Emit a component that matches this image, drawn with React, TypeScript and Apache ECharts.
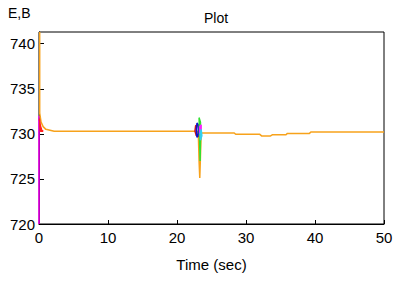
import React, { useEffect, useRef } from "react";
import * as echarts from "echarts";

const xTicks = [0, 10, 20, 30, 40, 50];
const yTicks = [720, 725, 730, 735, 740];

const orangeData: [number, number][] = [
  [0.1, 741.3], [0.1, 732.3], [0.3, 731.3], [0.6, 730.8], [1.0, 730.5], [1.6, 730.4], [2.2, 730.3],
  [23.0, 730.3], [23.1, 729.7], [23.2, 727.0], [23.3, 725.1], [23.4, 727.5], [23.5, 730.1],
  [28.3, 730.1], [28.5, 729.95], [32.0, 729.95], [32.3, 729.75], [33.5, 729.75], [33.8, 729.9],
  [35.8, 729.9], [36.0, 730.05], [39.2, 730.05], [39.4, 730.2], [50, 730.2],
];
const magentaStart: [number, number][] = [[0, 720], [0, 732]];
const redStart: [number, number][] = [[0.05, 731.7], [0.2, 730.9], [0.4, 730.4], [0.6, 730.3], [0.2, 730.3], [0.1, 731.2]];
const redLoop: [number, number][] = [[22.8, 729.8], [22.6, 730.3], [22.7, 730.9], [23.0, 731.0], [23.2, 730.5], [23.1, 729.7], [22.8, 729.8]];
const blueLoop: [number, number][] = [[22.9, 729.6], [22.8, 730.4], [22.9, 731.2], [23.1, 731.0], [23.1, 730.0], [22.9, 729.6]];
const greenSpike: [number, number][] = [[23.2, 731.8], [23.4, 731.3], [23.4, 729.5], [23.35, 727.0], [23.3, 728.5], [23.25, 730.5], [23.2, 731.8]];
const magentaLoop: [number, number][] = [[23.3, 730.0], [23.5, 730.4], [23.5, 731.0], [23.3, 730.8], [23.3, 730.0]];
const cyanLoop: [number, number][] = [[23.4, 729.3], [23.6, 729.8], [23.5, 730.5], [23.35, 730.0], [23.4, 729.3]];

const series = [
  { color: "#ff00ff", data: magentaStart },
  { color: "#f7a21b", data: orangeData },
  { color: "#ff2020", data: redStart },
  { color: "#d01818", data: redLoop },
  { color: "#1010d0", data: blueLoop },
  { color: "#30e030", data: greenSpike },
  { color: "#ff20ff", data: magentaLoop },
  { color: "#30d0f0", data: cyanLoop },
];

export default function App() {
  const ref = useRef<HTMLDivElement>(null);
  useEffect(() => {
    if (!ref.current) return;
    const chart = echarts.init(ref.current, null, { renderer: "svg" });
    const font = "Liberation Sans, Arial, sans-serif";
    chart.setOption({
      animation: false,
      backgroundColor: "#ffffff",
      title: {
        text: "Plot",
        left: 211,
        top: 6,
        textAlign: "center",
        textStyle: { fontSize: 14, fontWeight: "normal", color: "#000", fontFamily: font },
      },
      graphic: [
        { type: "text", left: 8, top: 6, style: { text: "E,B", fontSize: 14, fill: "#000", fontFamily: font } },
      ],
      grid: {
        left: 39, right: 17, top: 32, bottom: 60,
        show: true, borderColor: "#000", borderWidth: 1, backgroundColor: "transparent",
      },
      xAxis: {
        type: "value",
        min: xTicks[0], max: xTicks[xTicks.length - 1], interval: 10,
        name: "Time (sec)", nameLocation: "middle", nameGap: 33,
        nameTextStyle: { fontSize: 15, color: "#000", fontFamily: font },
        axisLine: { show: true, lineStyle: { color: "#000", width: 1 } },
        axisTick: { show: true, inside: true, length: 4, lineStyle: { color: "#000" } },
        axisLabel: { fontSize: 15, color: "#000", fontFamily: font, margin: 6 },
        splitLine: { show: false },
      },
      yAxis: {
        type: "value",
        min: yTicks[0], max: 741.3, interval: 5,
        axisLine: { show: true, lineStyle: { color: "#000", width: 1 } },
        axisTick: { show: true, inside: true, length: 5, lineStyle: { color: "#000" } },
        axisLabel: { fontSize: 15, color: "#000", fontFamily: font, margin: 4, showMaxLabel: false,
          formatter: (v: number) => (yTicks.includes(v) ? String(v) : "") },
        splitLine: { show: false },
      },
      series: series.map((s) => ({
        type: "line",
        data: s.data,
        showSymbol: false,
        symbol: "none",
        lineStyle: { color: s.color, width: 1.5 },
        itemStyle: { color: s.color },
        z: 3,
      })),
    });
    return () => chart.dispose();
  }, []);
  return <div ref={ref} style={{ width: 401, height: 284, position: "absolute", left: 0, top: 0 }} />;
}
